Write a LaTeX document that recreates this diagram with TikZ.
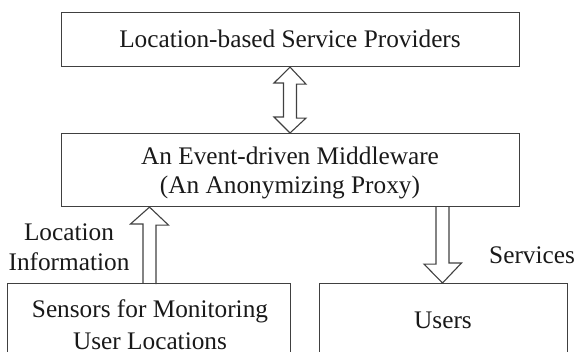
\documentclass[tikz,border=0pt]{standalone}
\usepackage{fontspec}
\setmainfont{Liberation Serif}
\usetikzlibrary{calc}
\definecolor{linegray}{gray}{0.25}
\tikzset{
  box/.style={draw=linegray, line width=1.1pt, rectangle, inner sep=0pt, anchor=north west},
  txt/.style={inner sep=0pt, anchor=base, font=\fontsize{25.3}{30}\selectfont, text=black!90},
  blk/.style={draw=linegray, line width=1.1pt, line join=miter}
}
\begin{document}
\begin{tikzpicture}[x=1pt, y=-1pt]
  \useasboundingbox (0,0) rectangle (576,351);
  \clip (0,0) rectangle (576,351);

  % boxes
  \node[box, minimum width=458pt, minimum height=54pt] (lsp) at (61,12) {};
  \node[box, minimum width=458pt, minimum height=73pt] (mw) at (61,133) {};
  \node[box, minimum width=283pt, minimum height=90pt] (sens) at (7,283) {};
  \node[box, minimum width=248pt, minimum height=90pt] (usr) at (319,283) {};

  % box texts
  \node[txt] (lspT) at (290,47) {Location-based Service Providers};
  \node[txt] (mwT1) at (290,164) {An Event-driven Middleware};
  \node[txt] (mwT2) at (290,193) {(An Anonymizing Proxy)};
  \node[txt] (sensT1) at (150,317) {Sensors for Monitoring};
  \node[txt] (sensT2) at (150,349) {User Locations};
  \node[txt] (usrT) at (443,328) {Users};

  % arrow labels
  \node[txt] (locT1) at (69,240) {Location};
  \node[txt] (locT2) at (69,270) {Information};
  \node[txt, anchor=base west] (srvT) at (489,263) {Services};

  % arrow axes
  \coordinate (dblax) at (290,100);
  \coordinate (upax) at (149.5,250);
  \coordinate (dnax) at (442.5,250);

  % double block arrow: providers <-> middleware
  \draw[blk] (lsp.south -| dblax) -- ++(16,17) -- ++(-9.5,0) -- ++(0,34) -- ++(9.5,0)
    -- (mw.north -| dblax) -- ++(-16,-16) -- ++(9.5,0) -- ++(0,-34) -- ++(-9.5,0) -- cycle;

  % block arrow: sensors -> middleware
  \draw[blk] ($(sens.north -| upax)+(-6.5,0)$) -- ++(0,-59) -- ++(-12.5,0)
    -- (mw.south -| upax) -- ++(19,18) -- ++(-12.5,0) -- ++(0,59);

  % block arrow: middleware -> users
  \draw[blk] ($(mw.south -| dnax)+(-6.5,0)$) -- ++(0,57) -- ++(-12,0)
    -- (usr.north -| dnax) -- ++(19,-20) -- ++(-12.5,0) -- ++(0,-57);
\end{tikzpicture}
\end{document}
